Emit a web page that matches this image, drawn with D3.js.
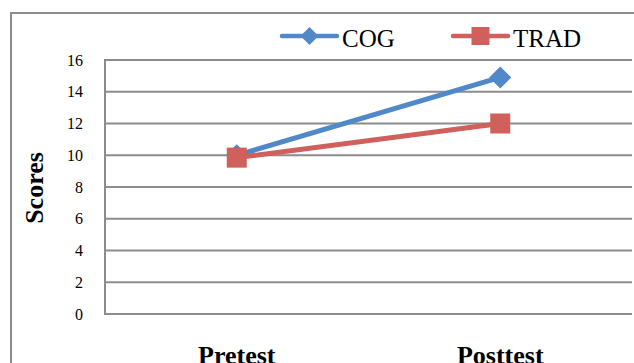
<!DOCTYPE html>
<html>
<head>
<meta charset="utf-8">
<script src="https://cdn.jsdelivr.net/npm/d3@7"></script>
<style>
  body { margin: 0; background: #fff; }
  svg { display: block; }
  text { font-family: "Liberation Serif", "Times New Roman", serif; }
</style>
</head>
<body>
<svg id="chart"></svg>
<script>
const categories = ['Pretest', 'Posttest'];
const cogScores = [10.0, 14.9];
const tradScores = [9.85, 12.0];
const yTicks = [0, 2, 4, 6, 8, 10, 12, 14, 16];
const seriesNames = ['COG', 'TRAD'];

const width = 634;
const height = 363;
const margin = { top: 60, right: 2, bottom: 49, left: 105 };
const innerWidth = width - margin.left - margin.right;
const innerHeight = height - margin.top - margin.bottom;

const blue = '#5088c8';
const red = '#cf605b';
const grid = '#8c8c8c';
const font = '"Liberation Serif", "Times New Roman", serif';

const svg = d3.select('#chart')
    .attr('width', width)
    .attr('height', height)
    .attr('font-family', font);

// outer chart border, clipped by the picture on the right and bottom
svg.append('rect')
    .attr('x', 11)
    .attr('y', 13)
    .attr('width', 700)
    .attr('height', 400)
    .attr('fill', 'none')
    .attr('stroke', grid)
    .attr('stroke-width', 2);

const chart = svg.append('g')
    .attr('transform', `translate(${margin.left},${margin.top})`);

const xScale = d3.scaleBand()
    .domain(categories)
    .range([0, innerWidth]);

const yScale = d3.scaleLinear()
    .domain([0, 16])
    .range([innerHeight, 0]);

// gridlines
chart.selectAll('.grid')
    .data(yTicks)
    .join('line')
    .classed('grid', true)
    .attr('x1', 0)
    .attr('x2', innerWidth)
    .attr('y1', d => yScale(d))
    .attr('y2', d => yScale(d))
    .attr('stroke', grid)
    .attr('stroke-width', 2);

chart.append('line')
    .attr('x1', 0).attr('x2', 0)
    .attr('y1', yScale(16) - 1).attr('y2', yScale(0) + 1)
    .attr('stroke', grid)
    .attr('stroke-width', 2);

// y tick labels
const yAxis = d3.axisLeft(yScale).tickValues(yTicks).tickSize(0).tickPadding(22);
chart.append('g')
    .attr('class', 'y axis')
    .call(yAxis)
    .attr('font-family', font)
    .attr('font-size', 16)
    .call(g => g.select('.domain').remove())
    .selectAll('text')
    .attr('fill', '#000');

// category labels
const xAxis = d3.axisBottom(xScale).tickSize(0).tickPadding(0);
chart.append('g')
    .attr('class', 'x axis')
    .attr('transform', `translate(0,${innerHeight + 50})`)
    .call(xAxis)
    .attr('font-family', font)
    .attr('font-size', 26)
    .attr('font-weight', 'bold')
    .call(g => g.select('.domain').remove())
    .selectAll('text')
    .attr('y', 0)
    .attr('dy', 0)
    .attr('fill', '#000');

// y axis title
svg.append('text')
    .attr('transform', 'translate(43,188) rotate(-90)')
    .attr('text-anchor', 'middle')
    .style('font-size', '26px')
    .style('font-weight', 'bold')
    .text('Scores');

const line = d3.line()
    .x((d, i) => xScale(categories[i]) + xScale.bandwidth() / 2)
    .y(d => yScale(d));

const diamond = s => `M0,${-s}L${s},0L0,${s}L${-s},0Z`;

// COG series
chart.append('path')
    .datum(cogScores)
    .attr('d', line)
    .attr('fill', 'none')
    .attr('stroke', blue)
    .attr('stroke-width', 5)
    .attr('stroke-linecap', 'round');

chart.selectAll('.cog-marker')
    .data(cogScores)
    .join('path')
    .classed('cog-marker', true)
    .attr('transform', (d, i) => `translate(${xScale(categories[i]) + xScale.bandwidth() / 2},${yScale(d)})`)
    .attr('d', diamond(11))
    .attr('fill', blue);

// TRAD series
chart.append('path')
    .datum(tradScores)
    .attr('d', line)
    .attr('fill', 'none')
    .attr('stroke', red)
    .attr('stroke-width', 5)
    .attr('stroke-linecap', 'round');

chart.selectAll('.trad-marker')
    .data(tradScores)
    .join('rect')
    .classed('trad-marker', true)
    .attr('x', (d, i) => xScale(categories[i]) + xScale.bandwidth() / 2 - 10)
    .attr('y', d => yScale(d) - 10)
    .attr('width', 20)
    .attr('height', 20)
    .attr('fill', red);

// legend
const legendItems = [
    { name: seriesNames[0], color: blue, x: 282 },
    { name: seriesNames[1], color: red, x: 453 }
];
const legend = svg.selectAll('.legend')
    .data(legendItems)
    .join('g')
    .classed('legend', true)
    .attr('transform', d => `translate(${d.x},36)`);

legend.append('line')
    .attr('x1', 0).attr('x2', 55)
    .attr('stroke', d => d.color)
    .attr('stroke-width', 4.5)
    .attr('stroke-linecap', 'round');

legend.filter((d, i) => i === 0).append('path')
    .attr('transform', 'translate(27.5,0)')
    .attr('d', diamond(9))
    .attr('fill', d => d.color);

legend.filter((d, i) => i === 1).append('rect')
    .attr('x', 27.5 - 9).attr('y', -9)
    .attr('width', 18).attr('height', 18)
    .attr('fill', d => d.color);

legend.append('text')
    .attr('x', 60)
    .attr('y', 11)
    .style('font-size', '25px')
    .text(d => d.name);
</script>
</body>
</html>
